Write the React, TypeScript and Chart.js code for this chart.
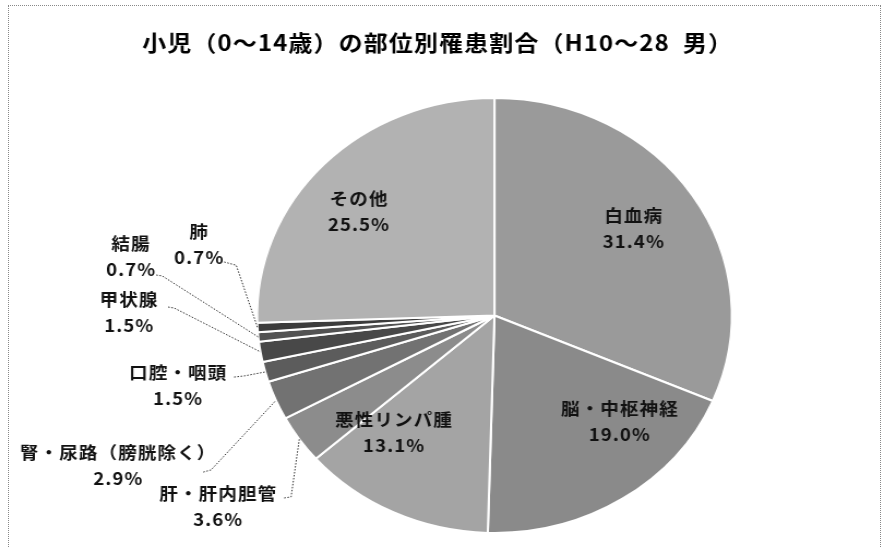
import React, { useEffect, useRef } from "react";
import { Chart, registerables } from "chart.js";
Chart.register(...registerables);

const TITLE = "小児（0～14歳）の部位別罹患割合（H10～28  男）";
const categories = [
  "白血病",
  "脳・中枢神経",
  "悪性リンパ腫",
  "肝・肝内胆管",
  "腎・尿路（膀胱除く）",
  "口腔・咽頭",
  "甲状腺",
  "結腸",
  "肺",
  "その他",
];
const values = [31.4, 19.0, 13.1, 3.6, 2.9, 1.5, 1.5, 0.7, 0.7, 25.5];
const valueLabels = values.map((v) => v.toFixed(1) + "%");

// styling / layout (kept separate from data)
const sliceColors = [
  "#9a9a9a",
  "#8a8a8a",
  "#a4a4a4",
  "#8c8c8c",
  "#727272",
  "#5c5c5c",
  "#484848",
  "#525252",
  "#3c3c3c",
  "#b2b2b2",
];
// label block centres relative to pie centre, in units of the radius
const labelPlacement: [number, number][] = [
  [0.587, -0.4],
  [0.528, 0.487],
  [-0.423, 0.538],
  [-1.164, 0.878],
  [-1.585, 0.69],
  [-1.333, 0.324],
  [-1.539, -0.012],
  [-1.531, -0.271],
  [-1.244, -0.324],
  [-0.571, -0.478],
];
// leader line start and elbow, in units of the radius
const leaderPlacement: ([number, number][] | null)[] = [
  null,
  null,
  null,
  [[-0.886, 0.839], [-0.857, 0.834]],
  [[-1.227, 0.72], [-1.194, 0.71]],
  [[-1.097, 0.283], [-1.055, 0.278]],
  [[-1.375, -0.039], [-1.349, -0.034]],
  [[-1.425, -0.186], [-1.4, -0.182]],
  [[-1.139, -0.246], [-1.088, -0.231]],
  null,
];

const PAGE_W = 884;
const PAGE_H = 547;
const CANVAS_W = 810;
const SX = PAGE_W / CANVAS_W;
const FONT = '"Noto Sans CJK JP", "Noto Sans", sans-serif';

const labelPlugin = {
  id: "pieLabels",
  afterDraw(chart: any) {
    const ctx = chart.ctx as CanvasRenderingContext2D;
    ctx.save();
    // title
    ctx.fillStyle = "#000";
    ctx.textAlign = "center";
    ctx.textBaseline = "middle";
    ctx.font = `bold 22px ${FONT}`;
    (ctx as any).letterSpacing = "1px";
    ctx.fillText(TITLE, 401, 43);

    const meta = chart.getDatasetMeta(0);
    meta.data.forEach((arc: any, i: number) => {
      const p = arc.getProps(["x", "y", "outerRadius", "startAngle", "endAngle"], true);
      const R = p.outerRadius;
      const lead = leaderPlacement[i];
      if (lead) {
        const mid = (p.startAngle + p.endAngle) / 2;
        ctx.beginPath();
        ctx.setLineDash([1.5, 1.5]);
        ctx.lineWidth = 1;
        ctx.strokeStyle = "#333";
        ctx.moveTo(p.x + lead[0][0] * R, p.y + lead[0][1] * R);
        ctx.lineTo(p.x + lead[1][0] * R, p.y + lead[1][1] * R);
        ctx.lineTo(p.x + Math.cos(mid) * R, p.y + Math.sin(mid) * R);
        ctx.stroke();
        ctx.setLineDash([]);
      }
      const [dx, dy] = labelPlacement[i];
      const lx = p.x + dx * R;
      const ly = p.y + dy * R;
      ctx.fillStyle = "#111";
      ctx.font = `bold 17px ${FONT}`;
      (ctx as any).letterSpacing = "1px";
      ctx.fillText(categories[i], lx, ly - 13);
      ctx.fillText(valueLabels[i], lx, ly + 13);
    });
    ctx.restore();
  },
};

export default function App() {
  const ref = useRef<HTMLCanvasElement | null>(null);
  useEffect(() => {
    if (!ref.current) return;
    const chart = new Chart(ref.current, {
      type: "pie",
      data: {
        labels: categories,
        datasets: [
          {
            data: values,
            backgroundColor: sliceColors,
            borderColor: "#ffffff",
            borderWidth: 2,
          },
        ],
      },
      options: {
        animation: false,
        responsive: true,
        maintainAspectRatio: false,
        events: [],
        layout: { padding: { left: 234.6, right: 138.4, top: 97, bottom: 13 } },
        plugins: {
          legend: { display: false },
          tooltip: { enabled: false },
          title: { display: false },
        },
      },
      plugins: [labelPlugin],
    });
    return () => chart.destroy();
  }, []);

  return (
    <div
      style={{
        position: "fixed",
        left: 0,
        top: 0,
        width: PAGE_W,
        height: PAGE_H,
        overflow: "hidden",
        background: "#fff",
      }}
    >
      <div
        style={{
          position: "absolute",
          left: 8,
          top: 5,
          width: 873,
          height: 600,
          border: "1px dotted #888",
          boxSizing: "border-box",
        }}
      />
      <div
        style={{
          position: "absolute",
          left: 0,
          top: 0,
          width: CANVAS_W,
          height: PAGE_H,
          transform: `scaleX(${SX})`,
          transformOrigin: "0 0",
        }}
      >
        <canvas ref={ref} />
      </div>
    </div>
  );
}
